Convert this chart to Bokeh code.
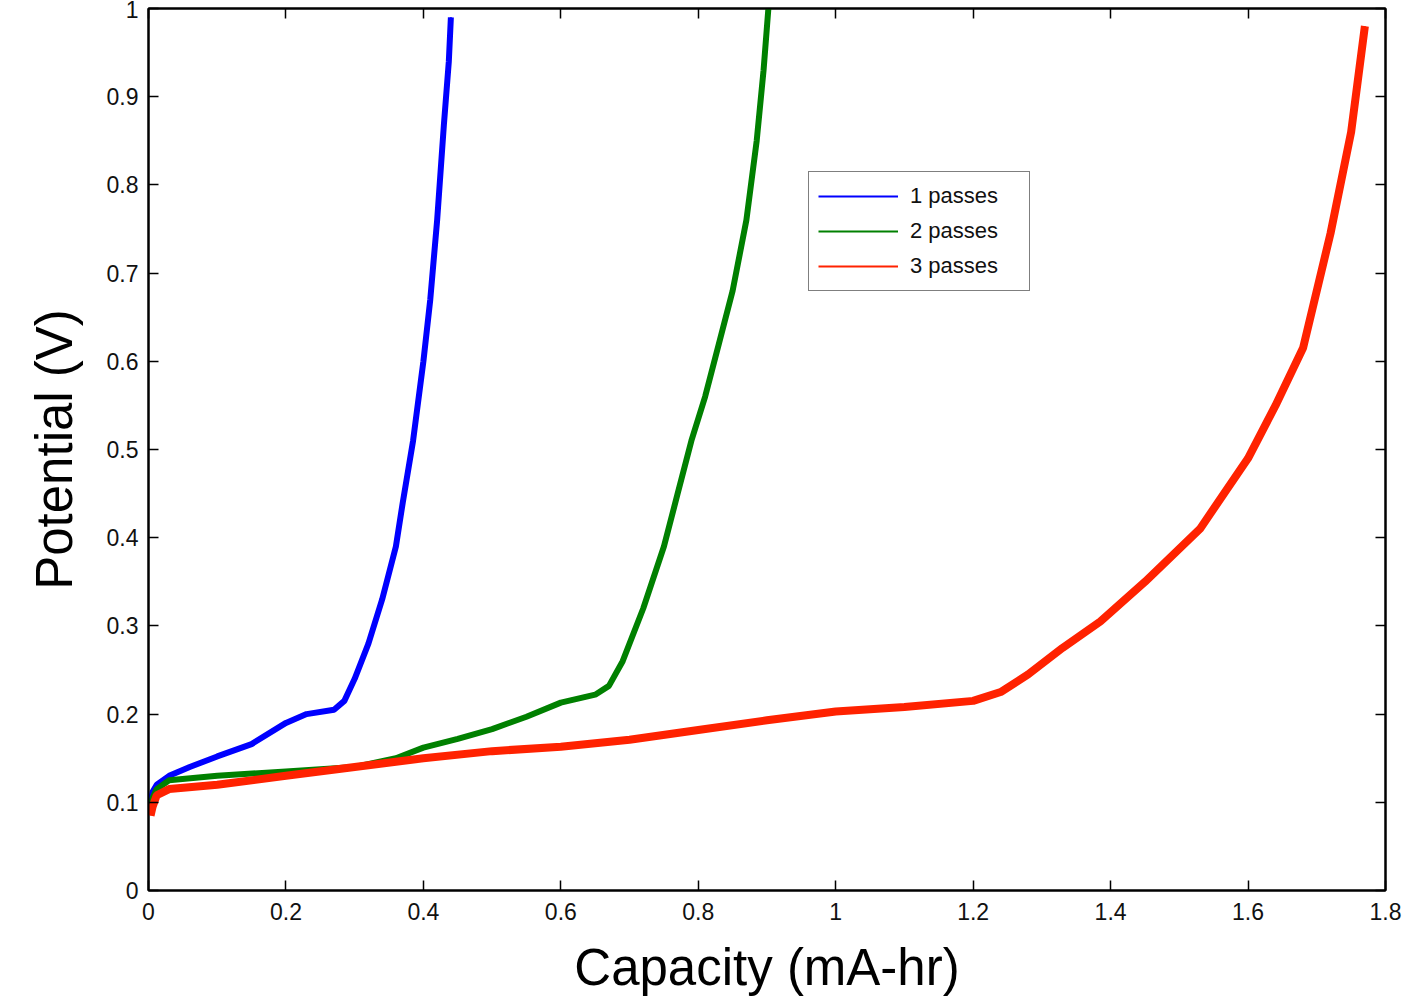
from bokeh.plotting import figure
from bokeh.models import LinearAxis, FixedTicker, Range1d, Legend, LegendItem
from bokeh.embed import file_html
from bokeh.resources import INLINE

# ---- data ----
blue_x = [0.003, 0.006, 0.012, 0.03, 0.06, 0.10, 0.15, 0.20, 0.23, 0.27, 0.285, 0.30,
          0.32, 0.34, 0.36, 0.37, 0.385, 0.40, 0.41, 0.42, 0.43, 0.437, 0.44]
blue_y = [0.10, 0.112, 0.12, 0.13, 0.14, 0.152, 0.166, 0.19, 0.20, 0.205, 0.215, 0.24,
          0.28, 0.33, 0.39, 0.44, 0.51, 0.60, 0.67, 0.76, 0.87, 0.94, 0.99]

green_x = [0.003, 0.006, 0.012, 0.03, 0.10, 0.20, 0.30, 0.36, 0.40, 0.45, 0.50, 0.55,
           0.60, 0.65, 0.67, 0.69, 0.72, 0.75, 0.77, 0.79, 0.81, 0.83, 0.85, 0.87,
           0.885, 0.895, 0.902]
green_y = [0.095, 0.105, 0.115, 0.125, 0.13, 0.135, 0.14, 0.15, 0.162, 0.172, 0.183, 0.197,
           0.213, 0.222, 0.232, 0.26, 0.32, 0.39, 0.45, 0.51, 0.56, 0.62, 0.68, 0.76,
           0.85, 0.93, 1.0]

red_x = [0.003, 0.006, 0.012, 0.03, 0.10, 0.20, 0.30, 0.40, 0.50, 0.60, 0.70, 0.80, 0.90,
         1.00, 1.10, 1.20, 1.24, 1.28, 1.33, 1.385, 1.45, 1.53, 1.60, 1.64, 1.68, 1.72,
         1.75, 1.77]
red_y = [0.085, 0.095, 0.108, 0.115, 0.12, 0.13, 0.14, 0.15, 0.158, 0.163, 0.171, 0.182,
         0.193, 0.203, 0.208, 0.215, 0.225, 0.245, 0.275, 0.305, 0.35, 0.41, 0.49, 0.55,
         0.615, 0.745, 0.86, 0.98]

series_names = ["1 passes", "2 passes", "3 passes"]
series_colors = ["#0000ff", "#008000", "#ff2200"]

x_ticks = [0, 0.2, 0.4, 0.6, 0.8, 1.0, 1.2, 1.4, 1.6, 1.8]
x_tick_labels = ["0", "0.2", "0.4", "0.6", "0.8", "1", "1.2", "1.4", "1.6", "1.8"]
y_ticks = [0, 0.1, 0.2, 0.3, 0.4, 0.5, 0.6, 0.7, 0.8, 0.9, 1.0]
y_tick_labels = ["0", "0.1", "0.2", "0.3", "0.4", "0.5", "0.6", "0.7", "0.8", "0.9", "1"]

FONT = "Liberation Sans"

p = figure(width=1403, height=998, output_backend="svg", toolbar_location=None,
           x_range=Range1d(0, 1.8), y_range=Range1d(0, 1),
           min_border_left=148, min_border_right=18, min_border_top=8,
           min_border_bottom=108)
p.xgrid.visible = False
p.ygrid.visible = False
p.outline_line_color = "black"
p.outline_line_width = 2
p.background_fill_color = "white"
p.border_fill_color = "white"

for ax, ticks, labels in ((p.xaxis[0], x_ticks, x_tick_labels), (p.yaxis[0], y_ticks, y_tick_labels)):
    ax.ticker = FixedTicker(ticks=ticks)
    ax.major_label_overrides = {t: l for t, l in zip(ticks, labels)}
    ax.major_tick_in = 10
    ax.major_tick_out = 0
    ax.minor_tick_in = 0
    ax.minor_tick_out = 0
    ax.major_tick_line_width = 1.5
    ax.axis_line_width = 2
    ax.major_label_text_font = FONT
    ax.major_label_text_font_size = "23px"
    ax.major_label_text_color = "#111111"
    ax.axis_label_text_font = FONT
    ax.axis_label_text_font_size = "51px"
    ax.axis_label_text_font_style = "normal"
    ax.axis_label_text_color = "black"

p.xaxis.axis_label = "Capacity (mA-hr)"
p.yaxis.axis_label = "Potential (V)"
p.xaxis.major_label_standoff = 12
p.yaxis.major_label_standoff = 10
p.xaxis.axis_label_standoff = 16
p.yaxis.axis_label_standoff = 21

# mirrored axes (ticks only) on top and right
for loc, ticks in (("above", x_ticks), ("right", y_ticks)):
    a = LinearAxis(ticker=FixedTicker(ticks=ticks))
    a.major_tick_in = 10
    a.major_tick_out = 0
    a.minor_tick_in = 0
    a.minor_tick_out = 0
    a.major_tick_line_width = 1.5
    a.axis_line_width = 2
    a.major_label_text_font_size = "0px"
    a.major_label_standoff = 0
    p.add_layout(a, loc)

xs = [blue_x, green_x, red_x]
ys = [blue_y, green_y, red_y]
widths = [6, 6, 8]
items = []
for x, y, c, w, name in zip(xs, ys, series_colors, widths, series_names):
    thin = p.line(x, y, line_color=c, line_width=2)   # legend glyph (hidden under band)
    p.line(x, y, line_color=c, line_width=w)
    items.append(LegendItem(label=name, renderers=[thin]))

legend = Legend(items=items, location=(660, 599))
legend.label_text_font = FONT
legend.label_text_font_size = "22px"
legend.label_text_color = "#111111"
legend.glyph_width = 80
legend.glyph_height = 30
legend.label_height = 30
legend.label_width = 110
legend.label_standoff = 12
legend.spacing = 5
legend.padding = 9
legend.margin = 0
legend.border_line_color = "black"
legend.border_line_width = 1.5
legend.background_fill_alpha = 1
p.add_layout(legend, "center")

open("out.html", "w").write(file_html(p, INLINE))
